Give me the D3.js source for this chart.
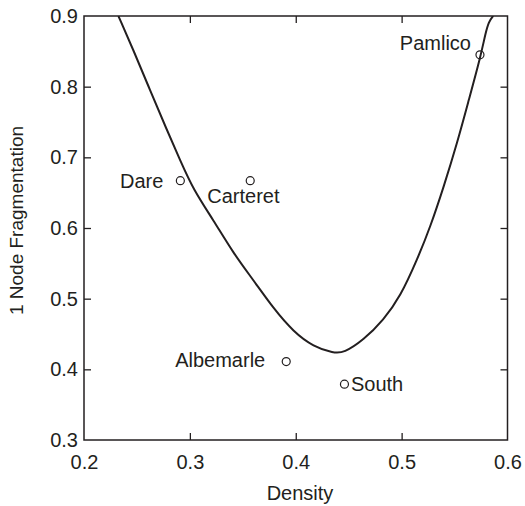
<!DOCTYPE html>
<html>
<head>
<meta charset="utf-8">
<script src="https://cdn.jsdelivr.net/npm/d3@7"></script>
<style>
  html, body { margin: 0; padding: 0; background: #fff; }
  svg { display: block; }
  text { font-family: "Liberation Sans", Arial, Helvetica, sans-serif; fill: #231f20; }
</style>
</head>
<body>
<svg id="chart" width="525" height="506"></svg>
<script>
// ---- data ----
const siteNames = ["Dare", "Carteret", "Albemarle", "South", "Pamlico"];
const siteDensity = [0.291, 0.357, 0.391, 0.446, 0.574];
const siteFrag = [0.667, 0.667, 0.411, 0.379, 0.845];

const curveDensity = [0.2325, 0.2466, 0.2624, 0.2782, 0.2908, 0.3034, 0.3223, 0.3412, 0.3601, 0.3790, 0.3979, 0.4168, 0.4357, 0.4452, 0.4641, 0.4830, 0.4988, 0.5146, 0.5272, 0.5398, 0.5524, 0.5634, 0.5745, 0.5792, 0.5823, 0.5865];
const curveFrag = [0.900, 0.852, 0.795, 0.739, 0.696, 0.654, 0.611, 0.564, 0.526, 0.486, 0.453, 0.432, 0.423, 0.423, 0.4415, 0.470, 0.503, 0.555, 0.602, 0.6585, 0.720, 0.781, 0.842, 0.8755, 0.892, 0.900];

const xTicks = [0.2, 0.3, 0.4, 0.5, 0.6];
const yTicks = [0.3, 0.4, 0.5, 0.6, 0.7, 0.8, 0.9];
const xLabel = "Density";
const yLabel = "1 Node Fragmentation";

// ---- layout ----
const mLeft = 84, mRight = 507.5, mTop = 16, mBottom = 440;
const ink = "#231f20";
const fontSize = 20;
const tickLen = 7;

const svg = d3.select("#chart");
const x = d3.scaleLinear().domain([0.2, 0.6]).range([mLeft, mRight]);
const y = d3.scaleLinear().domain([0.3, 0.9]).range([mBottom, mTop]);

// clip
svg.append("defs").append("clipPath").attr("id", "plotclip")
  .append("rect").attr("x", mLeft).attr("y", mTop).attr("width", mRight - mLeft).attr("height", mBottom - mTop);

// curve
const curvePts = curveDensity.map((d, i) => [d, curveFrag[i]]);
svg.append("path")
  .attr("clip-path", "url(#plotclip)")
  .attr("d", d3.line().x(d => x(d[0])).y(d => y(d[1])).curve(d3.curveBasis)(curvePts))
  .attr("fill", "none").attr("stroke", ink).attr("stroke-width", 2);

// axes (ticks inward on all sides)
function styleAxis(g) {
  g.selectAll(".domain").remove();
  g.selectAll(".tick line").attr("stroke", ink).attr("stroke-width", 1.3);
  g.selectAll(".tick text").attr("font-size", fontSize).style("fill", ink)
    .attr("font-family", '"Liberation Sans", Arial, sans-serif');
}
const fmt = d3.format(".1f");

svg.append("g").attr("transform", `translate(0,${mBottom})`)
  .call(d3.axisBottom(x).tickValues(xTicks).tickFormat(fmt).tickSizeInner(-tickLen).tickSizeOuter(0).tickPadding(15))
  .call(styleAxis)
  .call(g => g.selectAll(".tick").filter(d => d === 0.2 || d === 0.6).select("line").remove());

svg.append("g").attr("transform", `translate(0,${mTop})`)
  .call(d3.axisTop(x).tickValues(xTicks.filter(d => d > 0.2 && d < 0.6)).tickFormat("").tickSizeInner(-tickLen).tickSizeOuter(0))
  .call(styleAxis);

svg.append("g").attr("transform", `translate(${mLeft},0)`)
  .call(d3.axisLeft(y).tickValues(yTicks).tickFormat(fmt).tickSizeInner(-tickLen).tickSizeOuter(0).tickPadding(6))
  .call(styleAxis)
  .call(g => g.selectAll(".tick").filter(d => d === 0.3 || d === 0.9).select("line").remove());

svg.append("g").attr("transform", `translate(${mRight},0)`)
  .call(d3.axisRight(y).tickValues(yTicks.filter(d => d > 0.3 && d < 0.9)).tickFormat("").tickSizeInner(-tickLen).tickSizeOuter(0))
  .call(styleAxis);

// frame
svg.append("rect")
  .attr("x", mLeft).attr("y", mTop).attr("width", mRight - mLeft).attr("height", mBottom - mTop)
  .attr("fill", "none").attr("stroke", ink).attr("stroke-width", 1.5);

// points
const labelOffsets = {
  "Dare": [-17, 7.5, "end"],
  "Carteret": [-43, 22.5, "start"],
  "Albemarle": [-21, 5.5, "end"],
  "South": [6.5, 6.5, "start"],
  "Pamlico": [-9, -5, "end"]
};
const sites = siteNames.map((n, i) => ({ name: n, d: siteDensity[i], f: siteFrag[i] }));
svg.append("g").selectAll("circle").data(sites).join("circle")
  .attr("cx", d => x(d.d)).attr("cy", d => y(d.f)).attr("r", 4)
  .attr("fill", "none").attr("stroke", ink).attr("stroke-width", 1.2);

svg.append("g").selectAll("text").data(sites).join("text")
  .attr("x", d => x(d.d) + labelOffsets[d.name][0])
  .attr("y", d => y(d.f) + labelOffsets[d.name][1])
  .attr("text-anchor", d => labelOffsets[d.name][2])
  .attr("font-size", fontSize)
  .text(d => d.name);

// axis labels
svg.append("text").attr("x", 300).attr("y", 500)
  .attr("text-anchor", "middle").attr("font-size", fontSize).text(xLabel);
svg.append("text")
  .attr("transform", `translate(23,220.5) rotate(-90)`)
  .attr("text-anchor", "middle").attr("font-size", 19).text(yLabel);
</script>
</body>
</html>
